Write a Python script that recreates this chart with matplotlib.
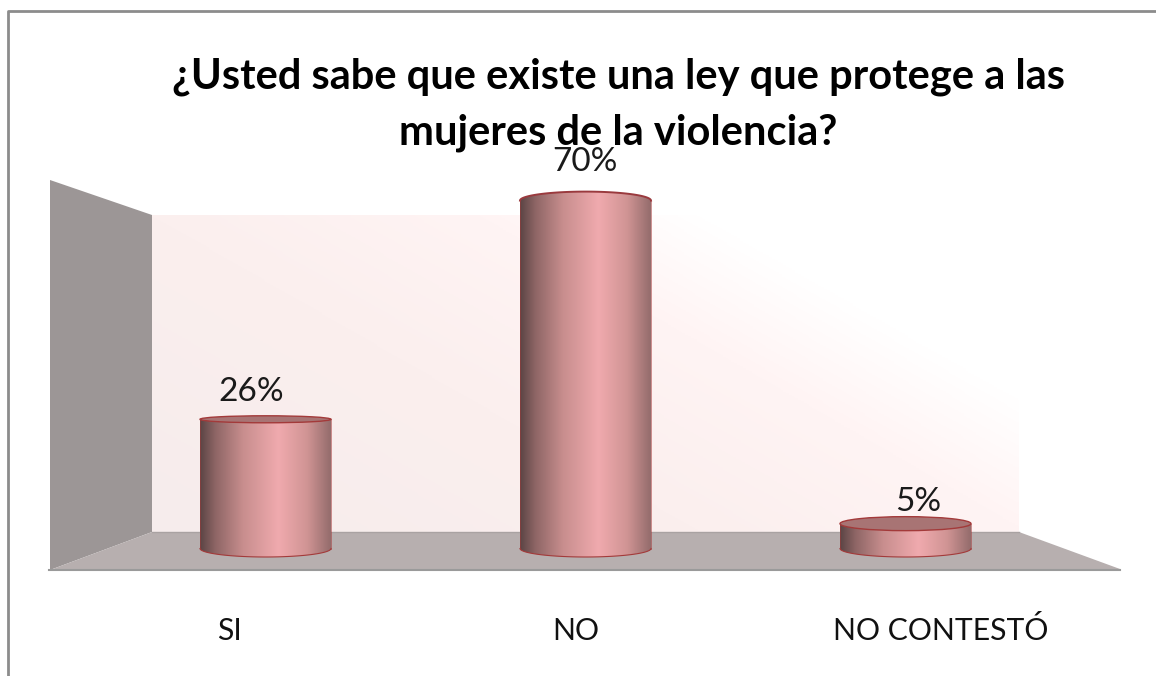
import matplotlib
matplotlib.use("Agg")
import matplotlib.pyplot as plt
import numpy as np
from matplotlib.colors import LinearSegmentedColormap
from matplotlib.patches import Polygon, Ellipse, PathPatch
from matplotlib.path import Path

W, H = 1156, 676

title_lines = ["¿Usted sabe que existe una ley que protege a las", "mujeres de la violencia?"]
categories = ["SI", "NO", "NO CONTESTÓ"]
values = [26, 70, 5]
labels = ["26%", "70%", "5%"]

plt.rcParams["font.family"] = ["Lato", "DejaVu Sans"]

fig = plt.figure(figsize=(W / 100, H / 100), dpi=100)

# one axes over the whole picture; x = category index, y = percent
x0, dx = 265.5, 320
y0, dy = 548.5, 4.97
ax = fig.add_axes([0, 0, 1, 1])

# pixel helpers for the chart furniture
def px(x, y):
    return ((x - x0) / dx, (y0 - y) / dy)

def poly(points, **kw):
    p = Polygon([px(*q) for q in points], closed=True, **kw)
    ax.add_patch(p)
    return p

# frame
ax.plot(*zip(px(8, 676), px(8, 11), px(1156, 11)), color="#8c8c8c", lw=2, solid_capstyle="butt")

# back wall, pink at lower left fading to white at upper right
wall_cmap = LinearSegmentedColormap.from_list(
    "wall", [(0, "#f6ecec"), (0.5, "#fbefee"), (0.8, "#fff4f4"), (1, "#ffffff")])
xx, yy = np.meshgrid(np.linspace(0, 1, 300), np.linspace(0, 1, 200))
grad = np.clip(xx * 0.79 + yy * 0.5, 0, 1)
ax.imshow(grad, cmap=wall_cmap, vmin=0, vmax=1, origin="lower", aspect="auto", zorder=1,
          extent=[px(152, 0)[0], px(1019, 0)[0], px(0, 532)[1], px(0, 215)[1]])

# side wall and floor
poly([(50, 180), (152, 215), (152, 532), (50, 570)], facecolor="#9c9696", edgecolor="none", zorder=2)
poly([(50, 570), (152, 532), (1019, 532), (1120, 569)], facecolor="#b7afaf", edgecolor="none", zorder=2)
ax.plot(*zip(px(152, 532), px(1019, 532)), color="#a9a2a2", lw=1, zorder=2)
ax.plot(*zip(px(49, 569.5), px(1120, 569.5)), color="#9a9a9a", lw=1.5, zorder=3)

# cylinders
body_cmap = LinearSegmentedColormap.from_list(
    "body", [(0, "#5b4545"), (0.12, "#8f6666"), (0.33, "#c88e8e"), (0.6, "#f0aaae"), (0.82, "#d09494"), (1, "#946c6c")])
bar_w = 131 / dx
rx = bar_w / 2
ry = 8.5 / dy
edge = "#a33a3a"
# half height of each top ellipse in px, negative = seen from below
cap_ry = [3.5, -9, 7]
label_xy = [(251, 401), (585, 171), (918, 511)]
cat_x = [229, 576, 941]
for i, v in enumerate(values):
    left, right = i - rx, i + rx
    t = np.linspace(np.pi, 2 * np.pi, 60)
    bottom = np.column_stack([i + rx * np.cos(t), ry * np.sin(t)])
    cap = cap_ry[i] / dy
    if cap < 0:
        t2 = np.linspace(0, np.pi, 60)
        top = np.column_stack([i + rx * np.cos(t2), v - cap * np.sin(t2)])
    else:
        top = np.array([[right, v], [left, v]])
    verts = np.vstack([bottom, top, bottom[:1]])
    im = ax.imshow(np.linspace(0, 1, 256)[None, :], cmap=body_cmap, aspect="auto", zorder=4,
                   extent=[left, right, -ry, v + abs(cap)])
    im.set_clip_path(PathPatch(Path(verts), transform=ax.transData))
    ax.plot(bottom[:, 0], bottom[:, 1], color=edge, lw=0.8, zorder=5)
    ax.plot([left, left], [0, v], color=edge, lw=0.7, alpha=0.55, zorder=5)
    ax.plot([right, right], [0, v], color=edge, lw=0.7, alpha=0.55, zorder=5)
    if cap > 0:
        ax.add_patch(Ellipse((i, v), bar_w, 2 * cap, facecolor="#a87474", edgecolor=edge, lw=1, zorder=6))
    else:
        ax.plot(top[:, 0], top[:, 1], color="#9a3a3e", lw=1.4, zorder=6)
    ax.text(*px(*label_xy[i]), labels[i], ha="center", va="baseline", fontsize=24, color="#1a1a1a", zorder=8)

# category labels
for i, c in enumerate(categories):
    ax.text(*px(cat_x[i], 640), c, ha="center", va="baseline", fontsize=21.7, color="#111111", zorder=8)

# title
ax.text(*px(619, 89), title_lines[0], ha="center", va="baseline", fontsize=30, fontweight="bold", color="black", zorder=9)
ax.text(*px(618, 145), title_lines[1], ha="center", va="baseline", fontsize=30, fontweight="bold", color="black", zorder=9)

ax.set_xlim((0 - x0) / dx, (W - x0) / dx)
ax.set_ylim((y0 - H) / dy, y0 / dy)
ax.axis("off")

fig.savefig("out.png", dpi=100, facecolor="white")
